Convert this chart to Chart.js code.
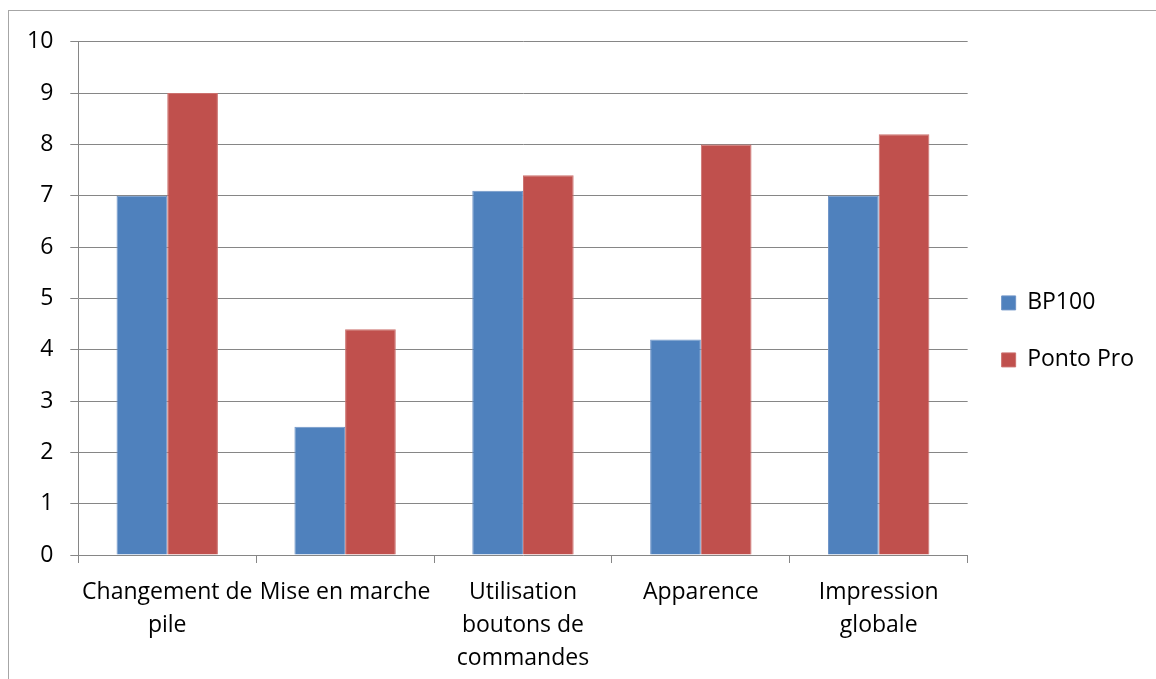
<!DOCTYPE html>
<html>
<head>
<meta charset="utf-8">
<script src="https://cdn.jsdelivr.net/npm/chart.js@4"></script>
<style>
    html, body { margin: 0; padding: 0; background: #fff; overflow: hidden; }
    #frame {
        position: absolute;
        left: 8px;
        top: 10px;
        width: 1148px;
        height: 669px;
        border-left: 1px solid #a6a6a6;
        border-top: 1px solid #a6a6a6;
    }
    #chart-box { position: relative; width: 1147px; height: 668px; }
</style>
</head>
<body>
<div id="frame">
    <div id="chart-box"><canvas id="scoreChart"></canvas></div>
</div>
<script>
const categories = [
    ["Changement de", "pile"],
    "Mise en marche",
    ["Utilisation", "boutons de", "commandes"],
    "Apparence",
    ["Impression", "globale"]
];
const bp100Scores = [7, 2.5, 7.1, 4.2, 7];
const pontoProScores = [9, 4.4, 7.4, 8, 8.2];
const yTicks = [0, 1, 2, 3, 4, 5, 6, 7, 8, 9, 10];

document.addEventListener("DOMContentLoaded", () => {
    const ctx = document.getElementById("scoreChart");
    const font = { family: "'Open Sans', 'Liberation Sans', sans-serif", size: 23 };

    new Chart(ctx, {
        type: "bar",
        data: {
            labels: categories,
            datasets: [
                {
                    label: "BP100",
                    data: bp100Scores,
                    backgroundColor: "#4f81bd",
                    borderColor: "#6f95c8",
                    borderWidth: 1,
                    categoryPercentage: 0.57,
                    barPercentage: 1
                },
                {
                    label: "Ponto Pro",
                    data: pontoProScores,
                    backgroundColor: "#c0504d",
                    borderColor: "#cc716e",
                    borderWidth: 1,
                    categoryPercentage: 0.57,
                    barPercentage: 1
                }
            ]
        },
        options: {
            responsive: true,
            maintainAspectRatio: false,
            animation: false,
            layout: { padding: { top: 30, left: 1, right: 12, bottom: 0 } },
            plugins: {
                tooltip: { enabled: false },
                legend: {
                    position: "right",
                    fullSize: false,
                    // empty title only pushes the two entries down a bit
                    title: {
                        display: true,
                        text: " ",
                        font: { size: 10, lineHeight: 1 },
                        padding: { top: 56, bottom: 0 }
                    },
                    labels: {
                        color: "#000",
                        font: font,
                        boxWidth: 14,
                        boxHeight: 14,
                        padding: 34
                    }
                }
            },
            scales: {
                x: {
                    afterFit: (axis) => { axis.height = 124; },
                    grid: {
                        offset: true,
                        drawOnChartArea: false,
                        drawTicks: true,
                        tickLength: 8,
                        color: "#868686"
                    },
                    border: { display: false },
                    ticks: {
                        color: "#000",
                        font: { ...font, lineHeight: 1.435 },
                        padding: 13,
                        maxRotation: 0,
                        autoSkip: false
                    }
                },
                y: {
                    min: 0,
                    max: 10,
                    afterBuildTicks: (axis) => {
                        axis.ticks = yTicks.map(v => ({ value: v }));
                    },
                    grid: {
                        color: "#868686",
                        tickLength: 8
                    },
                    border: { display: true, color: "#868686" },
                    ticks: {
                        color: "#000",
                        font: font,
                        padding: 17
                    }
                }
            }
        }
    });
});
</script>
</body>
</html>
